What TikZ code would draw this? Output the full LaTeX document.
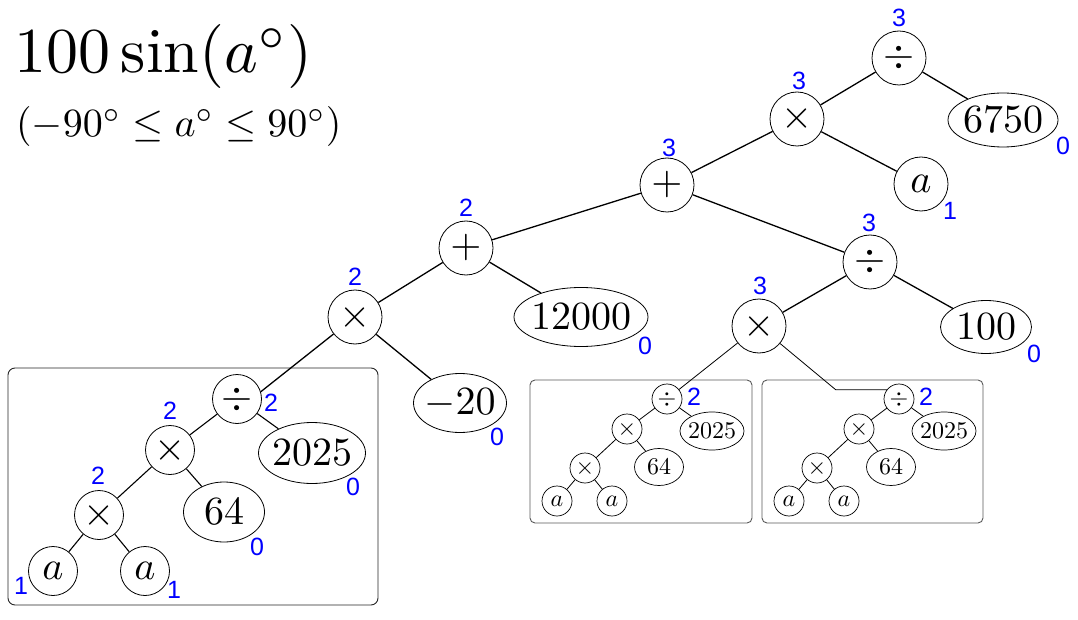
\documentclass[tikz,border=0pt]{standalone}
\usepackage{graphicx}
\usepackage{fontspec}
\newfontfamily\lblfont{Liberation Sans}
\usetikzlibrary{shapes.geometric}
\newcommand{\BigT}[1]{\scalebox{4}{$#1$}}
\newcommand{\SmT}[1]{\scalebox{2.4}{$#1$}}
\begin{document}
\begin{tikzpicture}[x=1pt,y=-1pt,
  op/.style={circle, draw, line width=0.8pt, minimum size=54pt, inner sep=0pt, font=\fontsize{10}{12}\selectfont},
  bop/.style={op, minimum size=49pt},
  sop/.style={circle, draw, line width=0.7pt, minimum size=30pt, inner sep=0pt, font=\fontsize{10}{12}\selectfont},
  num/.style={ellipse, draw, line width=0.8pt, inner xsep=-40pt, inner ysep=-40pt, font=\fontsize{10}{12}\selectfont},
  snum/.style={num, line width=0.7pt},
  lbl/.style={text=blue, inner sep=0pt, font=\lblfont\fontsize{25}{28}\selectfont},
  edge/.style={line width=1.3pt},
  bedge/.style={line width=1.1pt},
  sedge/.style={line width=0.8pt},
  bigbox/.style={draw=black!85, line width=0.9pt, rounded corners=7pt},
  smallbox/.style={draw=black!65, line width=0.9pt, rounded corners=5pt}]
\useasboundingbox (0,0) rectangle (1078,620);

% title
\node[anchor=base west, inner sep=0pt, font=\fontsize{10}{12}\selectfont] (title) at (14,73) {\scalebox{6.4}{$100\sin(a^\circ)$}};
\node[anchor=base west, inner sep=0pt, font=\fontsize{10}{12}\selectfont] (sub) at (16,137) {\scalebox{4}{$(-90^\circ\leq a^\circ\leq 90^\circ)$}};

% boxes
\draw[bigbox] (8,368) rectangle (378,605);
\draw[smallbox] (530,380) rectangle (752,523);
\draw[smallbox] (762,380) rectangle (983,523);

% main tree
\node[op] (d1) at (899,58) {\BigT{\div}};
\node[op] (m1) at (797,119) {\BigT{\times}};
\node[op] (p1) at (667,185) {\BigT{+}};
\node[op] (a1) at (921,184) {\BigT{a}};
\node[num, minimum width=110pt, minimum height=54pt] (n6750) at (1003,120) {\BigT{6750}};
\node[op] (p2) at (466,248) {\BigT{+}};
\node[op] (d2) at (870,262) {\BigT{\div}};
\node[op] (m2) at (355,317) {\BigT{\times}};
\node[num, minimum width=134pt, minimum height=59pt] (n12000) at (581,317) {\BigT{12000}};
\node[op] (m3) at (759,326) {\BigT{\times}};
\node[num, minimum width=91pt, minimum height=53pt] (n100) at (986,327) {\BigT{100}};
\node[num, minimum width=93pt, minimum height=59pt] (n20) at (460,403) {\BigT{-20}};

% big box tree
\node[bop] (bd) at (237,399) {\BigT{\div}};
\node[bop] (bm1) at (170,450) {\BigT{\times}};
\node[num, minimum width=107pt, minimum height=61pt] (b2025) at (312,453) {\BigT{2025}};
\node[bop] (bm2) at (99,515) {\BigT{\times}};
\node[num, minimum width=81pt, minimum height=60pt] (b64) at (224,512) {\BigT{64}};
\node[bop] (ba1) at (53,571) {\BigT{a}};
\node[bop] (ba2) at (145,571) {\BigT{a}};

% small left tree
\node[sop] (sd) at (667,399) {\SmT{\div}};
\node[sop] (sm1) at (627,429) {\SmT{\times}};
\node[snum, minimum width=64pt, minimum height=38pt] (s2025) at (712,431) {\SmT{2025}};
\node[sop] (sm2) at (585,468) {\SmT{\times}};
\node[snum, minimum width=49pt, minimum height=37pt] (s64) at (659,467) {\SmT{64}};
\node[sop] (sa1) at (557,501) {\SmT{a}};
\node[sop] (sa2) at (612,501) {\SmT{a}};

% small right tree
\node[sop] (rd) at (899,399) {\SmT{\div}};
\node[sop] (rm1) at (859,429) {\SmT{\times}};
\node[snum, minimum width=64pt, minimum height=38pt] (r2025) at (944,431) {\SmT{2025}};
\node[sop] (rm2) at (817,468) {\SmT{\times}};
\node[snum, minimum width=49pt, minimum height=37pt] (r64) at (891,467) {\SmT{64}};
\node[sop] (ra1) at (789,501) {\SmT{a}};
\node[sop] (ra2) at (844,501) {\SmT{a}};

% main edges
\draw[edge] (d1) -- (m1);
\draw[edge] (d1) -- (n6750);
\draw[edge] (m1) -- (p1);
\draw[edge] (m1) -- (a1);
\draw[edge] (p1) -- (p2);
\draw[edge] (p1) -- (d2);
\draw[edge] (p2) -- (m2);
\draw[edge] (p2) -- (n12000);
\draw[edge] (m2) -- (bd.17);
\draw[edge] (m2) -- (n20);
\draw[edge] (d2) -- (m3);
\draw[edge] (d2) -- (n100);
\draw[sedge] (m3) -- (sd);
\path (rd.143) ++(-51,0) coordinate (bendc);
\draw[sedge] (m3) -- (bendc) -- (rd.143);

% box edges
\draw[bedge] (bd) -- (bm1);
\draw[bedge] (bd) -- (b2025);
\draw[bedge] (bm1) -- (bm2);
\draw[bedge] (bm1) -- (b64);
\draw[bedge] (bm2) -- (ba1);
\draw[bedge] (bm2) -- (ba2);

\draw[sedge] (sd) -- (sm1);
\draw[sedge] (sd) -- (s2025);
\draw[sedge] (sm1) -- (sm2);
\draw[sedge] (sm1) -- (s64);
\draw[sedge] (sm2) -- (sa1);
\draw[sedge] (sm2) -- (sa2);

\draw[sedge] (rd) -- (rm1);
\draw[sedge] (rd) -- (r2025);
\draw[sedge] (rm1) -- (rm2);
\draw[sedge] (rm1) -- (r64);
\draw[sedge] (rm2) -- (ra1);
\draw[sedge] (rm2) -- (ra2);

% labels
\node[lbl] (l1) at (899,18) {3};
\node[lbl] (l2) at (799,81) {3};
\node[lbl] (l3) at (669,148) {3};
\node[lbl] (l4) at (1063,146) {0};
\node[lbl] (l5) at (950,211) {1};
\node[lbl] (l6) at (869,223) {3};
\node[lbl] (l7) at (760,286) {3};
\node[lbl] (l8) at (1034,354) {0};
\node[lbl] (l9) at (466,208) {2};
\node[lbl] (l10) at (355,277) {2};
\node[lbl] (l11) at (645,346) {0};
\node[lbl] (l12) at (497,437) {0};
\node[lbl] (l13) at (271,403) {2};
\node[lbl] (l14) at (170,411) {2};
\node[lbl] (l15) at (353,487) {0};
\node[lbl] (l16) at (98,476) {2};
\node[lbl] (l17) at (257,547) {0};
\node[lbl] (l18) at (21,586) {1};
\node[lbl] (l19) at (174,590) {1};
\node[lbl] (l20) at (694,397) {2};
\node[lbl] (l21) at (926,397) {2};
\end{tikzpicture}
\end{document}
